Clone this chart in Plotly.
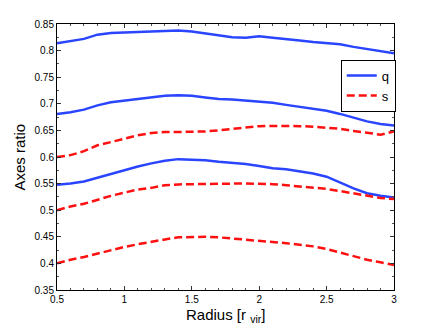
import plotly.graph_objects as go

# radius grid [r_vir]
radius = [0.5, 0.6, 0.7, 0.8, 0.9, 1.0, 1.1, 1.2, 1.3, 1.4, 1.5, 1.6, 1.7,
          1.8, 1.9, 2.0, 2.1, 2.2, 2.3, 2.4, 2.5, 2.6, 2.7, 2.8, 2.9, 3.0]

# q curves (solid blue)
q_top = [0.814, 0.818, 0.822, 0.830, 0.833, 0.834, 0.835, 0.8355, 0.836, 0.838, 0.836, 0.832, 0.828,
         0.825, 0.824, 0.827, 0.824, 0.822, 0.819, 0.816, 0.814, 0.812, 0.807, 0.803, 0.799, 0.795]
q_mid = [0.681, 0.684, 0.689, 0.697, 0.703, 0.706, 0.709, 0.712, 0.715, 0.716, 0.715, 0.712, 0.709,
         0.708, 0.706, 0.704, 0.702, 0.698, 0.694, 0.691, 0.687, 0.681, 0.674, 0.667, 0.662, 0.659]
q_low = [0.548, 0.550, 0.554, 0.561, 0.569, 0.576, 0.582, 0.588, 0.593, 0.596, 0.5955, 0.594, 0.591,
         0.589, 0.587, 0.583, 0.579, 0.577, 0.573, 0.569, 0.563, 0.552, 0.541, 0.532, 0.527, 0.524]

# s curves (dashed red)
s_top = [0.600, 0.6035, 0.611, 0.622, 0.628, 0.634, 0.641, 0.645, 0.647, 0.647, 0.647, 0.648, 0.650,
         0.653, 0.655, 0.658, 0.6585, 0.6585, 0.658, 0.657, 0.655, 0.653, 0.649, 0.6455, 0.642, 0.648]
s_mid = [0.500, 0.507, 0.512, 0.520, 0.527, 0.533, 0.539, 0.542, 0.547, 0.5485, 0.549, 0.550, 0.550,
         0.550, 0.550, 0.550, 0.549, 0.547, 0.545, 0.543, 0.540, 0.536, 0.532, 0.527, 0.523, 0.521]
s_low = [0.400, 0.407, 0.412, 0.4185, 0.425, 0.431, 0.436, 0.441, 0.445, 0.449, 0.450, 0.450, 0.449,
         0.447, 0.445, 0.443, 0.440, 0.438, 0.435, 0.432, 0.427, 0.420, 0.413, 0.407, 0.402, 0.397]

blue = '#2a45ff'
red = '#ff1010'

fig = go.Figure()
for i, y in enumerate([q_top, q_mid, q_low]):
    fig.add_trace(go.Scatter(x=radius, y=y, mode='lines', name='q', legendgroup='q',
                             showlegend=(i == 0), line=dict(color=blue, width=2.5)))
for i, y in enumerate([s_top, s_mid, s_low]):
    fig.add_trace(go.Scatter(x=radius, y=y, mode='lines', name='s', legendgroup='s',
                             showlegend=(i == 0),
                             line=dict(color=red, width=2.5, dash='8px,4px')))

axis_style = dict(showline=True, linecolor='black', linewidth=1, mirror='ticks',
                  ticks='inside', ticklen=4, tickcolor='#333', showgrid=False, zeroline=False,
                  tickfont=dict(size=10, color='black'), automargin=False)

fig.update_xaxes(range=[0.5, 3], dtick=0.5,
                 minor=dict(dtick=0.1, ticks='inside', ticklen=2, tickcolor='#555'),
                 **axis_style)
fig.update_yaxes(range=[0.35, 0.85], dtick=0.05,
                 minor=dict(dtick=0.025, ticks='inside', ticklen=2, tickcolor='#555'),
                 **axis_style)

# axis titles as annotations (page body adds an 8px offset, figure is sized to fit)
fig.add_annotation(text='Radius [r <sub>vir</sub>]', xref='paper', yref='paper',
                   x=0.5, y=-0.052, xanchor='center', yanchor='top', showarrow=False,
                   font=dict(size=15, color='black'))
fig.add_annotation(text='Axes ratio', xref='paper', yref='paper', textangle=-90,
                   x=-0.083, y=0.5, xanchor='right', yanchor='middle', showarrow=False,
                   font=dict(size=15, color='black'))

fig.update_layout(
    width=428, height=320,
    margin=dict(l=49, r=42, t=16, b=38),
    paper_bgcolor='white', plot_bgcolor='white',
    font=dict(family='Liberation Sans, Arial, sans-serif', color='black'),
    legend=dict(x=0.842, y=0.866, xanchor='left', yanchor='top',
                bordercolor='black', borderwidth=1, bgcolor='white',
                font=dict(size=13), itemwidth=30, tracegroupgap=0),
)

fig.write_html("out.html")
